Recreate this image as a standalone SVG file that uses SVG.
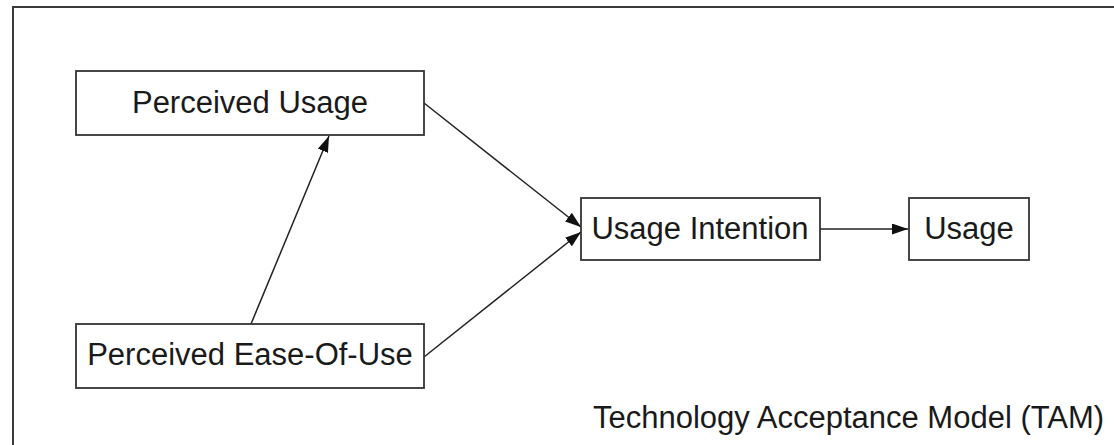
<svg xmlns="http://www.w3.org/2000/svg" width="1114" height="445" viewBox="0 0 1114 445">
<style>
.node rect{fill:#fff;stroke:#333;stroke-width:1.8}
.lbl{font-family:"Liberation Sans",Arial,sans-serif;font-size:31px;fill:#1a1a1a;text-anchor:middle}
.conn line{stroke:#222;stroke-width:1.5;fill:none}
</style>
<defs>
<marker id="ah" viewBox="0 0 16 11" refX="16" refY="5.5" markerWidth="16" markerHeight="11" markerUnits="userSpaceOnUse" orient="auto">
<path d="M0,0 L16,5.5 L0,11 Z" fill="#111"/>
</marker>
</defs>
<rect x="0" y="0" width="1114" height="445" fill="#fff"/>
<rect id="frame" x="13" y="7" width="1130" height="470" fill="none" stroke="#3a3a3a" stroke-width="2"/>
<g class="conn">
<line x1="251" y1="324" x2="329" y2="136" marker-end="url(#ah)"/>
<line x1="424" y1="103" x2="581" y2="227" marker-end="url(#ah)"/>
<line x1="424" y1="357" x2="581" y2="232" marker-end="url(#ah)"/>
<line x1="820" y1="229" x2="908" y2="229" marker-end="url(#ah)"/>
</g>
<g id="perceived-usage" class="node">
<rect x="76" y="71" width="348" height="64"/>
<text class="lbl" x="250" y="113">Perceived Usage</text>
</g>
<g id="perceived-ease" class="node">
<rect x="76" y="324" width="348" height="64"/>
<text class="lbl" x="250" y="365">Perceived Ease-Of-Use</text>
</g>
<g id="usage-intention" class="node">
<rect x="581" y="198" width="239" height="62"/>
<text class="lbl" x="700" y="239">Usage Intention</text>
</g>
<g id="usage" class="node">
<rect x="909" y="198" width="120" height="62"/>
<text class="lbl" x="969" y="239">Usage</text>
</g>
<text class="lbl" x="593" y="428" style="text-anchor:start">Technology Acceptance Model (TAM)</text>
</svg>
